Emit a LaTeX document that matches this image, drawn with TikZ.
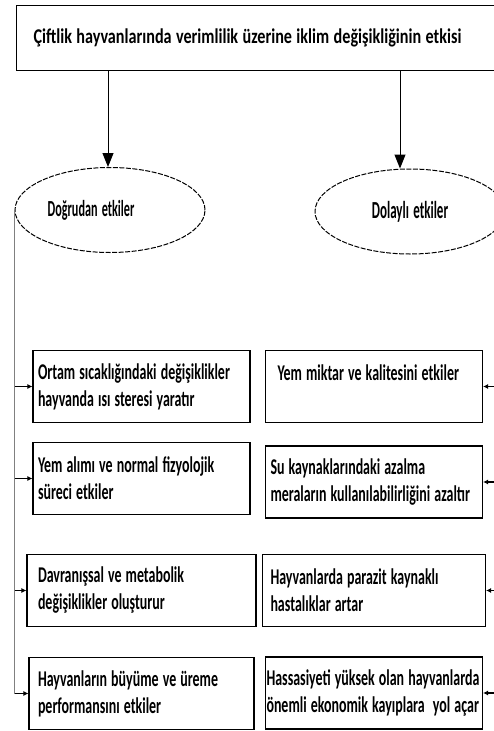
\documentclass[tikz,border=0pt]{standalone}
\usepackage{fontspec}
\setmainfont[FakeStretch=0.62,WordSpace=1.3]{Carlito Bold}
\newfontfamily\baslikfont[FakeStretch=0.77,WordSpace=1.2]{Carlito Bold}
\newfontfamily\ovalfont[FakeStretch=0.53,WordSpace=1.5]{Carlito Bold}
\usetikzlibrary{arrows.meta,shapes.geometric}
\hyphenpenalty=10000
\exhyphenpenalty=10000

\begin{document}
\begin{tikzpicture}[x=1pt,y=-1pt,
  font=\fontsize{22.5}{27}\selectfont,
  kutu/.style={rectangle,draw,line width=1.1pt,minimum width=217pt,minimum height=72pt,
    text width=207pt,align=flush left,inner xsep=5pt},
  oval/.style={ellipse,draw,dash pattern=on 5pt off 1.5pt,line width=1pt,minimum width=190pt,
    minimum height=85pt,font=\ovalfont\fontsize{23}{27}\selectfont},
  buyukok/.style={-{Triangle[length=14pt,width=11pt]},line width=1pt},
  kucukok/.style={-{Latex[length=5pt,width=5pt]},line width=1.1pt}]
\useasboundingbox (0,0) rectangle (493,731);
% baslik
\node[rectangle,draw,line width=1pt,anchor=west,text width=463pt,align=flush left,
  inner xsep=17pt,minimum height=65pt,font=\baslikfont\fontsize{21}{25}\selectfont] (baslik) at (16,37.5)
  {Çiftlik hayvanlarında verimlilik üzerine iklim değişikliğinin etkisi};
% iki grup
\node[oval] (dogrudan) at (110,210) {\hspace*{-38pt}Doğrudan etkiler};
\node[oval,font=\ovalfont\fontsize{24.5}{27}\selectfont] (dolayli) at (410,211.5) {Dolaylı etkiler};
\draw[buyukok] (baslik.south -| 108,0) -- (dogrudan.north -| 108,0);
\draw[buyukok] (baslik.south -| 400,0) -- (dolayli.north -| 400,0);
% dogrudan etkiler
\node[kutu] (l1) at (141.5,386.5) {Ortam sıcaklığındaki değişiklikler\\hayvanda ısı steresi yaratır};
\node[kutu] (l2) at (141.5,478.5) {Yem alımı ve normal fizyolojik\\süreci etkiler};
\node[kutu,inner xsep=11pt] (l3) at (141.5,590.5) {Davranışsal ve metabolik\\değişiklikler oluşturur};
\node[kutu,inner xsep=9pt] (l4) at (141.5,693.5) {Hayvanların büyüme ve üreme\\performansını etkiler};
% dolayli etkiler
\node[kutu] (r1) at (374,386.5) {\hspace*{7pt}Yem miktar ve kalitesini etkiler\\~};
\node[kutu,inner xsep=3pt] (r2) at (374,482) {Su kaynaklarındaki azalma\\meraların kullanılabilirliğini azaltır};
\node[kutu,inner xsep=8pt] (r3) at (374,590.5) {Hayvanlarda parazit kaynaklı\\hastalıklar artar};
\node[kutu,inner xsep=1pt,text width=215pt] (r4) at (374,693) {Hassasiyeti yüksek olan hayvanlarda\\önemli ekonomik kayıplara\ \ yol açar};
% baglantilar
\draw[gray,line width=1pt] (dogrudan.west) -- (dogrudan.west |- l4.west);
\foreach \k in {l1,l2,l3,l4}
  \draw[kucukok] (dogrudan.west |- \k.west) -- (\k.west);
\coordinate (sagkenar) at (498,0);
\foreach \k in {r1,r2,r3,r4}
  \draw[kucukok] (sagkenar |- \k.east) -- (\k.east);
\end{tikzpicture}
\end{document}
